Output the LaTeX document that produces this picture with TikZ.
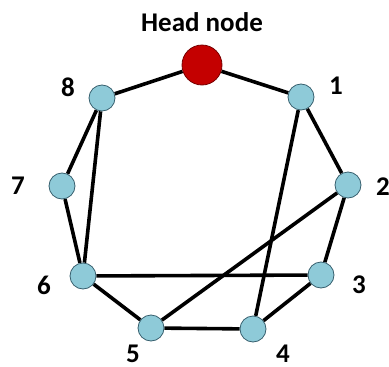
\documentclass[tikz,border=0pt]{standalone}
\usepackage{fontspec}
\setmainfont{Carlito}
\usetikzlibrary{backgrounds}
\definecolor{nodeblue}{RGB}{142,202,216}
\definecolor{nodeedge}{RGB}{55,95,110}
\definecolor{headred}{RGB}{196,0,0}
\definecolor{headedge}{RGB}{120,0,0}

\begin{document}
\begin{tikzpicture}[x=1pt, y=-1pt, line cap=round, line join=round]
  \tikzset{
    vertex/.style={circle, minimum size=26pt, inner sep=0pt, fill=nodeblue, draw=nodeedge, line width=0.8pt},
    headvertex/.style={circle, minimum size=40pt, inner sep=0pt, fill=headred, draw=headedge, line width=0.8pt},
    link/.style={line width=3.6pt, draw=black},
    lbl/.style={font=\fontsize{27}{31}\selectfont\bfseries, inner sep=0pt}
  }
  \useasboundingbox (0,0) rectangle (389,367);

  % các đỉnh
  \node[headvertex] (head) at (202,65) {};
  \node[vertex] (n1) at (301,97) {};
  \node[vertex] (n2) at (348,185) {};
  \node[vertex] (n3) at (321,275) {};
  \node[vertex] (n4) at (253,329) {};
  \node[vertex] (n5) at (151,328) {};
  \node[vertex] (n6) at (83,276) {};
  \node[vertex] (n7) at (62,186) {};
  \node[vertex] (n8) at (102,98) {};

  % các cạnh (nằm dưới các đỉnh)
  \begin{scope}[on background layer]
    \draw[link] (head) -- (n1);
    \draw[link] (head) -- (n8);
    \draw[link] (n1) -- (n2);
    \draw[link] (n2) -- (n3);
    \draw[link] (n3) -- (n4);
    \draw[link] (n4) -- (n5);
    \draw[link] (n5) -- (n6);
    \draw[link] (n6) -- (n7);
    \draw[link] (n7) -- (n8);
    \draw[link] (n8) -- (n6);
    \draw[link] (n1) -- (n4);
    \draw[link] (n2) -- (n5);
    \draw[link] (n6) -- (n3);
  \end{scope}

  % nhãn
  \node[lbl] (headlbl) at (202,22) {Head node};
  \node[lbl] (lbl1) at (336,86) {1};
  \node[lbl] (lbl2) at (383,187) {2};
  \node[lbl] (lbl3) at (359,285) {3};
  \node[lbl] (lbl4) at (283,354) {4};
  \node[lbl] (lbl5) at (133,354) {5};
  \node[lbl] (lbl6) at (44,285) {6};
  \node[lbl] (lbl7) at (18,186) {7};
  \node[lbl] (lbl8) at (68,87) {8};
\end{tikzpicture}
\end{document}
